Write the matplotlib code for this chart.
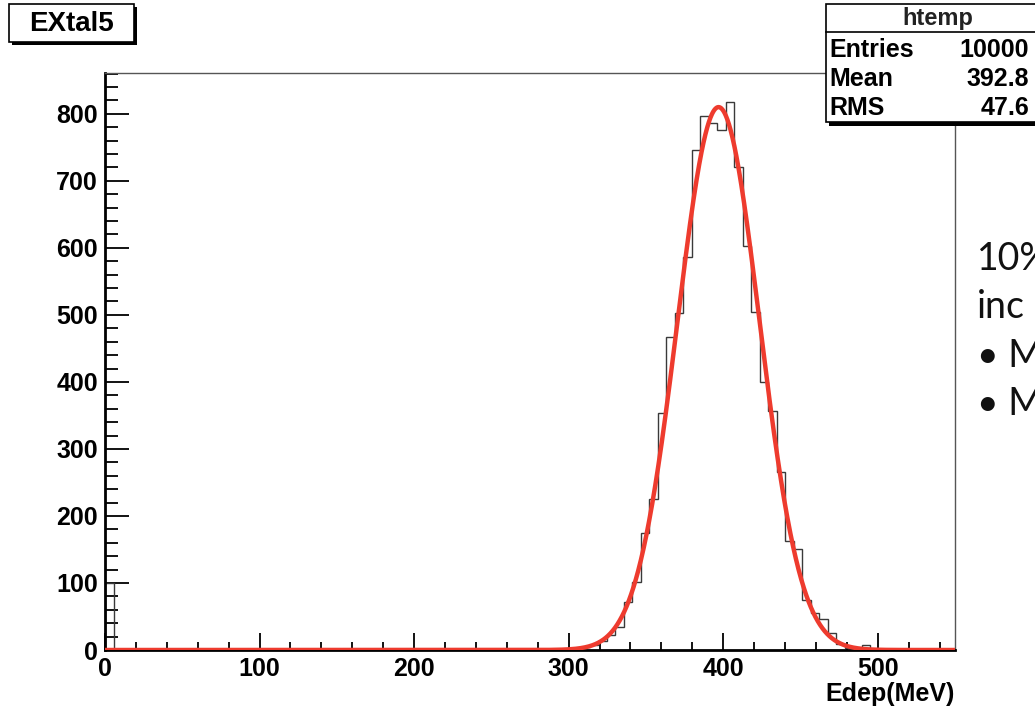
import numpy as np
import matplotlib.pyplot as plt
from matplotlib.patches import Rectangle

# histogram binning (ROOT default: 100 bins)
x_lo, x_hi, n_bins = 0.0, 550.0, 100

# non-empty bins, entries
bin_index = [0, 54, 55, 56, 57, 58, 59, 60, 61, 62, 63, 64, 65, 66, 67, 68, 69,
             70, 71, 72, 73, 74, 75, 76, 77, 78, 79, 80, 81, 82, 83, 84, 85,
             86, 87, 88, 89, 90, 91]
bin_count = [100, 1, 2, 4, 8, 14, 22, 35, 72, 102, 175, 225, 354, 467, 503, 587, 746,
             797, 786, 776, 818, 720, 603, 505, 400, 356, 265, 162, 150, 75, 55, 46, 25,
             9, 3, 3, 7, 2, 1]

# gaussian fit (red curve)
fit_const = 810.0
fit_mean = 397.0
fit_sigma = 26.5

hist_name = "EXtal5"
stats_title = "htemp"
stats_labels = ["Entries", "Mean", "RMS"]
stats_values = ["10000", "392.8", "47.6"]
x_title = "Edep(MeV)"
side_lines = ["10%", "inc", "\u2022 M", "\u2022 M"]

W, H = 1035, 715
fig = plt.figure(figsize=(W / 100, H / 100), dpi=100)
fig.patch.set_facecolor("white")

# plot frame in pixels: x 105..955, y 73..650
ax = fig.add_axes([105 / W, (H - 650) / H, 850 / W, 577 / H])

edges = np.linspace(x_lo, x_hi, n_bins + 1)
counts = np.zeros(n_bins)
counts[bin_index] = bin_count
ax.stairs(counts, edges, color="#3a3a3a", lw=1.0, zorder=2)

xf = np.linspace(x_lo, x_hi, 2201)
ax.plot(xf, fit_const * np.exp(-0.5 * ((xf - fit_mean) / fit_sigma) ** 2),
        color="#ee3b2e", lw=3.2, zorder=3, solid_capstyle="butt")

ax.set_xlim(x_lo, x_hi)
ax.set_ylim(0, 1.05 * max(bin_count) + 2)

ax.set_xticks(np.arange(0, 501, 100))
ax.set_xticks(np.arange(0, 551, 20), minor=True)
ax.set_yticks(np.arange(0, 801, 100))
ax.set_yticks(np.arange(0, 861, 20), minor=True)

tick_font = dict(family="Liberation Sans", weight="bold", size=18)
ax.tick_params(axis="both", which="both", direction="in", color="black", width=1.3)
ax.tick_params(axis="x", which="major", length=12, pad=5)
ax.tick_params(axis="x", which="minor", length=5.5)
ax.tick_params(axis="y", which="major", length=17, pad=5)
ax.tick_params(axis="y", which="minor", length=9)
for lab in ax.get_xticklabels() + ax.get_yticklabels():
    lab.set_fontfamily("Liberation Sans")
    lab.set_fontweight("bold")
    lab.set_fontsize(18)

for side in ["left", "bottom"]:
    ax.spines[side].set_linewidth(2.0)
    ax.spines[side].set_color("black")
for side in ["top", "right"]:
    ax.spines[side].set_linewidth(1.0)
    ax.spines[side].set_color("#555555")

ax.set_xlabel(x_title, loc="right", labelpad=1, **tick_font)

# overlay in pixel coordinates for the ROOT title / stats boxes and slide text
ov = fig.add_axes([0, 0, 1, 1])
ov.set_xlim(0, W)
ov.set_ylim(H, 0)
ov.axis("off")

# title box
ov.add_patch(Rectangle((12, 7), 125, 38, facecolor="black", edgecolor="none"))
ov.add_patch(Rectangle((9, 4), 125, 38, facecolor="white", edgecolor="black", lw=1.2))
ov.text(71.5, 24, hist_name, ha="center", va="center",
        family="Liberation Sans", weight="bold", size=20)

# stats box (cut by the right edge of the picture)
ov.add_patch(Rectangle((829, 7), 230, 119, facecolor="black", edgecolor="none"))
ov.add_patch(Rectangle((826, 4), 230, 118, facecolor="white", edgecolor="black", lw=1.2))
ov.plot([826, 1056], [32, 32], color="black", lw=1.2)
ov.text(938, 18.5, stats_title, ha="center", va="center",
        family="Liberation Sans", weight="bold", size=17, color="#222222")
for i, (lab, val) in enumerate(zip(stats_labels, stats_values)):
    yb = 57 + 29 * i
    ov.text(829, yb, lab, ha="left", va="baseline", **tick_font)
    ov.text(1029, yb, val, ha="right", va="baseline", **tick_font)

# slide text next to the plot (cut by the picture edge, as in the slide)
for i, line in enumerate(side_lines):
    ov.text(977, 270 + 48.3 * i, line, ha="left", va="baseline",
            family=["Lato", "DejaVu Sans"], size=27, color="#111111")

fig.savefig("out.png", dpi=100)
